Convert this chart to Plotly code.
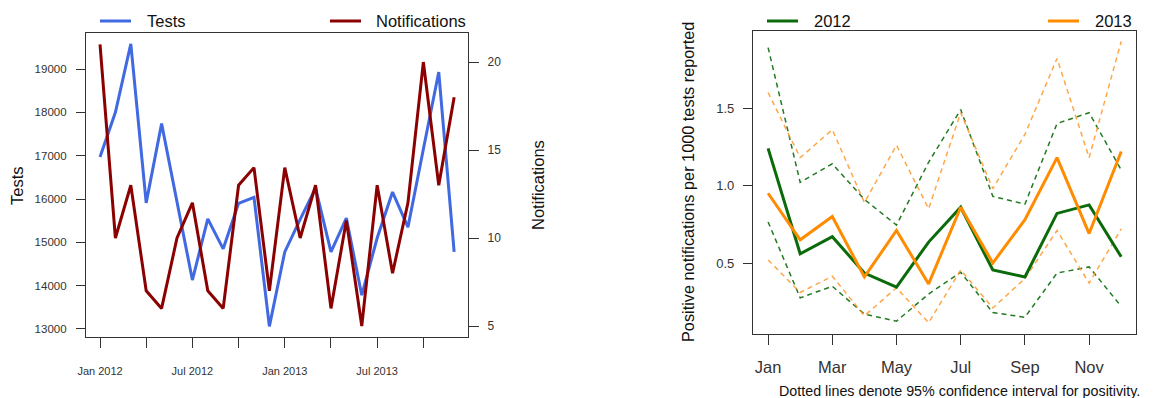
import plotly.graph_objects as go

W, H = 1157, 398

# ---------------- Left chart data ----------------
months_left = ["Jan 2012", "Feb 2012", "Mar 2012", "Apr 2012", "May 2012", "Jun 2012",
               "Jul 2012", "Aug 2012", "Sep 2012", "Oct 2012", "Nov 2012", "Dec 2012",
               "Jan 2013", "Feb 2013", "Mar 2013", "Apr 2013", "May 2013", "Jun 2013",
               "Jul 2013", "Aug 2013", "Sep 2013", "Oct 2013", "Nov 2013", "Dec 2013"]
tests = [16970, 18000, 19580, 15910, 17740, 15900, 14130, 15540, 14850, 15900, 16040, 13060,
         14780, 15530, 16250, 14780, 15560, 13780, 15100, 16160, 15350, 17150, 18930, 14780]
notifications = [21, 10, 13, 7, 6, 10, 12, 7, 6, 13, 14, 7,
                 14, 10, 13, 6, 11, 5, 13, 8, 12, 20, 13, 18]
left_tick_labels = ["Jan 2012", "", "Jul 2012", "", "Jan 2013", "", "Jul 2013", ""]
tests_ticks = [13000, 14000, 15000, 16000, 17000, 18000, 19000]
tests_tick_labels = ["13000", "14000", "15000", "16000", "17000", "18000", "19000"]
notif_ticks = [5, 10, 15, 20]

# ---------------- Right chart data ----------------
months_right = ["Jan", "Feb", "Mar", "Apr", "May", "Jun", "Jul", "Aug", "Sep", "Oct", "Nov", "Dec"]
pos_2012 = [1.24, 0.56, 0.67, 0.435, 0.345, 0.635, 0.86, 0.455, 0.41, 0.82, 0.875, 0.54]
pos_2013 = [0.95, 0.65, 0.80, 0.41, 0.71, 0.365, 0.86, 0.50, 0.78, 1.18, 0.69, 1.22]
lo_2012 = [0.765, 0.275, 0.35, 0.17, 0.125, 0.30, 0.44, 0.18, 0.15, 0.435, 0.475, 0.22]
hi_2012 = [1.89, 1.02, 1.14, 0.91, 0.745, 1.15, 1.49, 0.93, 0.88, 1.40, 1.47, 1.10]
lo_2013 = [0.52, 0.31, 0.415, 0.16, 0.34, 0.115, 0.455, 0.21, 0.40, 0.71, 0.37, 0.72]
hi_2013 = [1.60, 1.18, 1.36, 0.89, 1.26, 0.85, 1.47, 0.98, 1.33, 1.82, 1.18, 1.93]
right_y_ticks = [0.5, 1.0, 1.5]
right_y_labels = ["0.5", "1.0", "1.5"]

FONT = "Liberation Sans"
AX = "#333333"
BLUE = "#4169E1"
RED = "#8B0000"
GREEN = "#0B6B0B"
ORANGE = "#FF8C00"


def px(x):
    return x / W


def py(y):
    return 1 - y / H


xl = list(range(len(months_left)))
xr = list(range(len(months_right)))

fig = go.Figure()
fig.add_trace(go.Scatter(x=xl, y=tests, mode="lines", line=dict(color=BLUE, width=3),
                         xaxis="x", yaxis="y", showlegend=False))
fig.add_trace(go.Scatter(x=xl, y=notifications, mode="lines", line=dict(color=RED, width=3),
                         xaxis="x", yaxis="y2", showlegend=False))

for arr, col in [(lo_2012, "rgba(11,107,11,0.9)"), (hi_2012, "rgba(11,107,11,0.9)"),
                 (lo_2013, "rgba(255,150,40,0.85)"), (hi_2013, "rgba(255,150,40,0.85)")]:
    fig.add_trace(go.Scatter(x=xr, y=arr, mode="lines",
                             line=dict(color=col, width=1.5, dash="5px,4px"),
                             xaxis="x3", yaxis="y3", showlegend=False))
fig.add_trace(go.Scatter(x=xr, y=pos_2012, mode="lines", line=dict(color=GREEN, width=3),
                         xaxis="x3", yaxis="y3", showlegend=False))
fig.add_trace(go.Scatter(x=xr, y=pos_2013, mode="lines", line=dict(color=ORANGE, width=3),
                         xaxis="x3", yaxis="y3", showlegend=False))

common = dict(showgrid=False, zeroline=False, showline=True, linecolor=AX, linewidth=1.2,
              ticks="outside", tickcolor=AX, tickwidth=1.2, automargin=False)

fig.update_layout(
    width=W, height=H, margin=dict(l=0, r=0, t=0, b=0, autoexpand=False),
    paper_bgcolor="white", plot_bgcolor="white",
    font=dict(family=FONT, color=AX),
    xaxis=dict(domain=[px(86), px(468)], anchor="y", range=[-0.91, 23.9],
               tickvals=xl[::3], ticktext=left_tick_labels, ticklen=10, mirror=True,
               tickfont=dict(size=11, color=AX, family=FONT), ticklabelstandoff=14, **common),
    yaxis=dict(domain=[py(337), py(33)], anchor="x", range=[12815, 19831],
               tickvals=tests_ticks, ticktext=tests_tick_labels, ticklen=9, mirror=True,
               tickfont=dict(size=11.5, color=AX, family=FONT), ticklabelstandoff=7, **common),
    yaxis2=dict(overlaying="y", side="right", anchor="x", range=[4.375, 21.65],
                tickvals=notif_ticks, ticklen=10,
                tickfont=dict(size=12, color=AX, family=FONT), ticklabelstandoff=6, **common),
    xaxis3=dict(domain=[px(753), px(1136)], anchor="y3", range=[-0.47, 11.46],
                tickvals=xr[::2], ticktext=months_right[::2], ticklen=10, mirror=True,
                tickfont=dict(size=16.5, color=AX, family=FONT), ticklabelstandoff=8, **common),
    yaxis3=dict(domain=[py(334), py(31)], anchor="x3", range=[0.042, 1.997],
                tickvals=right_y_ticks, ticktext=right_y_labels, ticklen=9, mirror=True,
                tickfont=dict(size=13, color=AX, family=FONT), ticklabelstandoff=6, **common),
)

# Legends (drawn as keys + labels above the plots)
legend_items = [(100, 131, 145, "Tests", BLUE), (330, 361, 374, "Notifications", RED),
                (767, 798, 812, "2012", GREEN), (1048, 1079, 1093, "2013", ORANGE)]
for x0, x1, xt, label, col in legend_items:
    fig.add_shape(type="line", xref="paper", yref="paper", x0=px(x0), x1=px(x1),
                  y0=py(21), y1=py(21), line=dict(color=col, width=3))
    fig.add_annotation(xref="paper", yref="paper", x=px(xt), y=py(21), text=label,
                       showarrow=False, xanchor="left", yanchor="middle",
                       font=dict(size=16.5, color="#111111", family=FONT))

# Axis titles
fig.add_annotation(xref="paper", yref="paper", x=px(17), y=py(186), text="Tests", textangle=-90,
                   showarrow=False, xanchor="center", yanchor="middle",
                   font=dict(size=16.5, color="#111111", family=FONT))
fig.add_annotation(xref="paper", yref="paper", x=px(538), y=py(185), text="Notifications",
                   textangle=-90, showarrow=False, xanchor="center", yanchor="middle",
                   font=dict(size=16.5, color="#111111", family=FONT))
fig.add_annotation(xref="paper", yref="paper", x=px(688), y=py(182),
                   text="Positive notifications per 1000 tests reported", textangle=-90,
                   showarrow=False, xanchor="center", yanchor="middle",
                   font=dict(size=16.3, color="#111111", family=FONT))
fig.add_annotation(xref="paper", yref="paper", x=px(1142), y=py(391),
                   text="Dotted lines denote 95% confidence interval for positivity.",
                   showarrow=False, xanchor="right", yanchor="middle",
                   font=dict(size=14.3, color="#111111", family=FONT))

fig.write_html("out.html")
